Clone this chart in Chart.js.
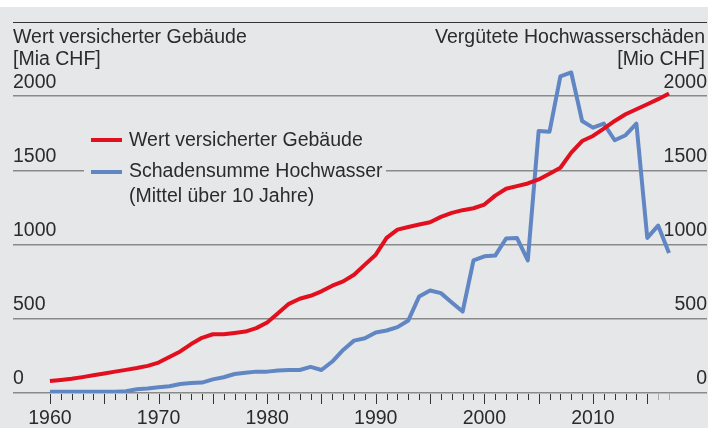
<!DOCTYPE html>
<html>
<head>
<meta charset="utf-8">
<script src="https://cdn.jsdelivr.net/npm/chart.js@4/dist/chart.umd.min.js"></script>
<style>
  html, body { margin: 0; padding: 0; background: #fff; }
  #wrap { position: relative; width: 712px; height: 428px; }
</style>
</head>
<body>
<div id="wrap"><canvas id="myChart" width="712" height="428"></canvas></div>
<script>
var jahre = Array.from({length: 58}, function (_, i) { return 1960 + i; });

// Wert versicherter Gebäude [Mia CHF]
var wert = [
    81, 88, 96, 107, 119, 132, 144, 156, 168, 183,
    205, 243, 280, 330, 372, 396, 396, 405, 414, 437,
    475, 538, 601, 635, 655, 685, 723, 752, 797, 865,
    932, 1045, 1101, 1119, 1135, 1151, 1187, 1214, 1232, 1245,
    1270, 1330, 1376, 1394, 1412, 1439, 1477, 1518, 1620, 1698,
    1732, 1782, 1833, 1878, 1912, 1946, 1980, 2018
];

// Schadensumme Hochwasser, Mittel über 10 Jahre [Mio CHF]
var schaden = [
    8, 8, 8, 8, 8, 8, 9, 12, 25, 30,
    38, 45, 61, 68, 70, 92, 106, 128, 137, 144,
    144, 151, 155, 155, 176, 155, 212, 290, 353, 369,
    408, 421, 444, 489, 651, 691, 673, 610, 549, 894,
    921, 926, 1041, 1045, 894, 1766, 1761, 2133, 2160, 1833,
    1788, 1815, 1703, 1737, 1815, 1045, 1128, 944
];

var yTicks = [0, 500, 1000, 1500, 2000];
var xLabels = [1960, 1970, 1980, 1990, 2000, 2010];

var rot = "#e2101f";
var blau = "#6186c4";
var textFarbe = "#2b2b2b";
var familie = "'Liberation Sans', Arial, sans-serif";
var schrift = "19.5px " + familie;

function punkte(werte) {
    return werte.map(function (v, i) { return {x: jahre[i], y: v}; });
}

var deko = {
    id: "deko",
    beforeDraw: function (chart) {
        var ctx = chart.ctx;
        ctx.save();
        ctx.fillStyle = "#e6e7e9";
        ctx.fillRect(0, 7, 708, 421);
        ctx.restore();
    },
    beforeDatasetsDraw: function (chart) {
        var ctx = chart.ctx;
        var a = chart.chartArea;
        var x = chart.scales.x;
        ctx.save();
        // Rahmenlinie oben
        ctx.strokeStyle = "#333";
        ctx.lineWidth = 1;
        ctx.beginPath();
        ctx.moveTo(a.left, a.top + 0.5);
        ctx.lineTo(a.right, a.top + 0.5);
        ctx.stroke();

        // Jahres-Striche unter der Achse
        jahre.forEach(function (j) {
            var px = Math.round(x.getPixelForValue(j)) + 0.5;
            ctx.strokeStyle = j >= 2016 ? "#aaa" : "#333";
            ctx.beginPath();
            ctx.moveTo(px, a.bottom + 1);
            ctx.lineTo(px, a.bottom + (j % 5 === 0 ? 11 : 7));
            ctx.stroke();
        });

        // Achsentitel
        ctx.fillStyle = textFarbe;
        ctx.font = schrift;
        ctx.textBaseline = "middle";
        ctx.textAlign = "left";
        ctx.fillText("Wert versicherter Gebäude", a.left, 38);
        ctx.fillText("[Mia CHF]", a.left, 60);
        ctx.textAlign = "right";
        ctx.fillText("Vergütete Hochwasserschäden", a.right - 2, 38);
        ctx.fillText("[Mio CHF]", a.right - 2, 60);

        // Legende
        ctx.fillStyle = "#e6e7e9";
        ctx.fillRect(84, 122, 302, 90);
        ctx.lineWidth = 4;
        ctx.strokeStyle = rot;
        ctx.beginPath();
        ctx.moveTo(91, 140);
        ctx.lineTo(122, 140);
        ctx.stroke();
        ctx.strokeStyle = blau;
        ctx.beginPath();
        ctx.moveTo(91, 172);
        ctx.lineTo(122, 172);
        ctx.stroke();
        ctx.fillStyle = textFarbe;
        ctx.textAlign = "left";
        ctx.fillText("Wert versicherter Gebäude", 129, 141);
        ctx.fillText("Schadensumme Hochwasser", 129, 172);
        ctx.fillText("(Mittel über 10 Jahre)", 129, 197);
        ctx.restore();
    }
};

var yAchse = {
    min: 0,
    max: 2500,
    afterBuildTicks: function (scale) {
        scale.ticks = yTicks.map(function (v) { return {value: v}; });
    },
    afterFit: function (scale) {
        scale.paddingTop = 0;
        scale.paddingBottom = 0;
    },
    border: {display: false},
    ticks: {
        mirror: true,
        padding: 0,
        labelOffset: -14,
        color: textFarbe,
        font: {family: familie, size: 19.5},
        callback: function (v) { return String(v); }
    }
};

new Chart("myChart", {
    type: "line",
    data: {
        datasets: [{
            label: "Wert versicherter Gebäude",
            data: punkte(wert),
            borderColor: rot,
            yAxisID: "y"
        }, {
            label: "Schadensumme Hochwasser",
            data: punkte(schaden),
            borderColor: blau,
            yAxisID: "y2"
        }]
    },
    options: {
        responsive: false,
        animation: false,
        layout: {padding: {left: 13, right: 5, top: 22, bottom: 0}},
        elements: {
            point: {radius: 0},
            line: {borderWidth: 4, tension: 0, borderJoinStyle: "round", borderCapStyle: "butt"}
        },
        plugins: {
            legend: {display: false},
            tooltip: {enabled: false}
        },
        scales: {
            x: {
                type: "linear",
                min: 1956.6,
                max: 2020.5,
                afterBuildTicks: function (scale) {
                    scale.ticks = xLabels.map(function (v) { return {value: v}; });
                },
                afterFit: function (scale) {
                    scale.height = 35;
                },
                border: {display: false},
                grid: {display: false, drawTicks: false},
                ticks: {
                    padding: 14,
                    maxRotation: 0,
                    color: textFarbe,
                    font: {family: familie, size: 19.5},
                    callback: function (v) { return String(v); }
                }
            },
            y: Object.assign({}, yAchse, {
                position: "left",
                grid: {color: "#8a8a8a", lineWidth: 1.5, drawTicks: false}
            }),
            y2: Object.assign({}, yAchse, {
                position: "right",
                grid: {drawOnChartArea: false, drawTicks: false}
            })
        }
    },
    plugins: [deko]
});
</script>
</body>
</html>
